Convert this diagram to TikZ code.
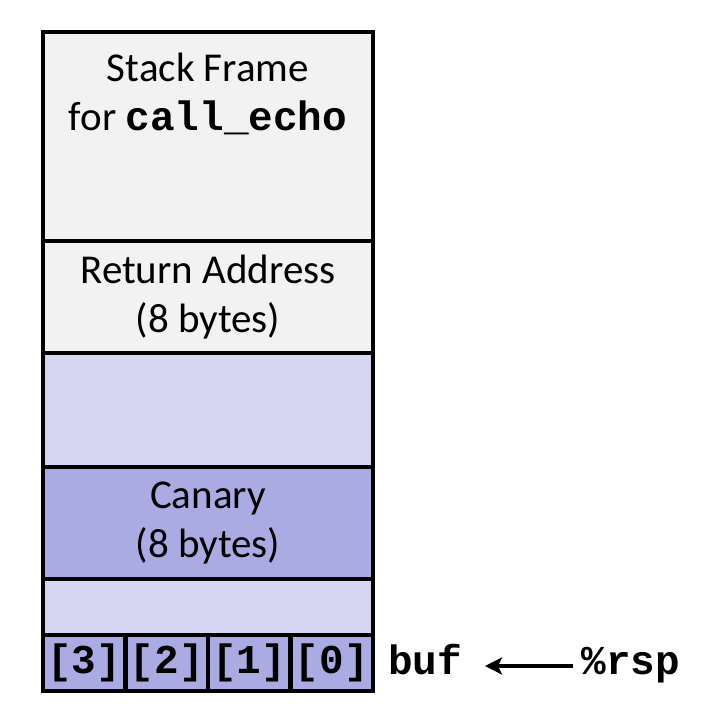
\documentclass[tikz,border=0pt]{standalone}
\usepackage{fontspec}
\setmainfont{Carlito}
\setmonofont{Liberation Mono}
\usetikzlibrary{arrows.meta}
\definecolor{framegray}{HTML}{F2F2F2}
\definecolor{padblue}{HTML}{D6D6F2}
\definecolor{canaryblue}{HTML}{ABABE3}

\begin{document}
\begin{tikzpicture}
      [x=0.5pt,y=-0.5pt,
       every node/.style={font=\fontsize{20.5}{24.5}\selectfont,align=center},
       slot/.style={draw,line width=2.2pt,minimum width=165pt,outer sep=0pt,inner sep=0pt},
       byte/.style={slot,minimum width=41.25pt,minimum height=28pt,fill=canaryblue,
                    font=\fontsize{20.5}{24.5}\selectfont\ttfamily\bfseries},
       reg/.style={font=\fontsize{20.5}{24.5}\selectfont\ttfamily\bfseries,
                   text height=12pt,text depth=4pt}]
      \useasboundingbox (0,0) rectangle (714,718);

      \node [slot,fill=framegray,minimum height=104.5pt] (frame) at (208,136.5) {};
      \node (title) at (208,94) {Stack Frame\\for \texttt{\bfseries call\_echo}};
      \node [slot,fill=framegray,minimum height=56pt] (ret) at (208,297) {Return Address\\(8 bytes)};
      \node [slot,fill=padblue,minimum height=57pt] (padhi) at (208,410) {};
      \node [slot,fill=canaryblue,minimum height=56pt] (canary) at (208,523) {Canary\\(8 bytes)};
      \node [slot,fill=padblue,minimum height=28pt] (padlo) at (208,607) {};

      \foreach \i/\x in {3/84.25, 2/166.75, 1/249.25, 0/331.75}
      \node [byte] (b\i) at (\x,663) {[\i]};

      \node [reg] (buf) at (425,666) {buf};
      \node [reg] (rsp) at (631,666) {\%rsp};
      \draw [line width=2pt,-{Stealth[length=8.5pt,width=8.5pt,inset=2pt]},shorten >=8pt,shorten <=1pt] (rsp) -- (buf);
    \end{tikzpicture}
\end{document}
